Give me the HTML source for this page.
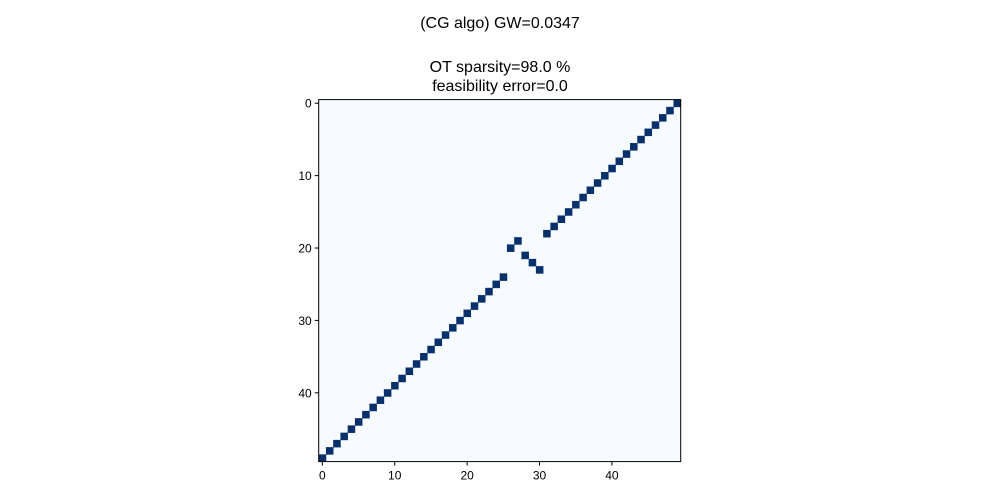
<!DOCTYPE html>
<html><head><meta charset="utf-8"><style>
body{margin:0;background:#fff;}
svg{display:block;font-family:"Liberation Sans","DejaVu Sans",sans-serif;}
</style></head><body>
<svg id="chart" width="1000" height="500">
<text x="500" y="28" font-size="16" text-anchor="middle">(CG algo) GW=0.0347</text>
<text x="500" y="72" font-size="16" text-anchor="middle">OT sparsity=98.0 %</text>
<text x="500" y="91" font-size="16" text-anchor="middle">feasibility error=0.0</text>
<g id="plot"></g>
</svg>
<script>
const nSize = 50;
const rowIdx = [];
const colIdx = [];
for (let i = 0; i < 50; i++) rowIdx.push(i);
const colValues = [49,48,47,46,45,44,43,42,41,40,39,38,37,36,35,34,33,32,31,27,26,28,29,30,25,24,23,22,21,20,19,18,17,16,15,14,13,12,11,10,9,8,7,6,5,4,3,2,1,0];
const xTicks = [0,10,20,30,40];
const yTicks = [0,10,20,30,40];
const L = 318.7, T = 99.6, S = 362;
const cw = S / nSize;
const xs = v => L + v * cw;
const ys = v => T + v * cw;
const NS = "http://www.w3.org/2000/svg";
const g = document.getElementById('plot');
function mk(tag, attrs){const e=document.createElementNS(NS,tag);for(const k in attrs)e.setAttribute(k,attrs[k]);g.appendChild(e);return e;}
const bg = mk('rect',{x:L,y:T,width:S,height:S,fill:'#f7fbff'});


rowIdx.forEach((r,i)=>{
  const c = colValues[i];
  const e = mk('rect',{x:xs(c),y:ys(r),width:cw+0.3,height:cw+0.3,fill:'#08306b'});
  
  
});
const fr = mk('rect',{x:L,y:T,width:S,height:S,fill:'none',stroke:'#000','stroke-width':1});


xTicks.forEach(t=>{
  const x = xs(t + 0.5);
  const l = mk('line',{x1:x,x2:x,y1:T+S,y2:T+S+4,stroke:'#000'});
  
  
  const tx = mk('text',{x:x,y:T+S+18,'font-size':12,'text-anchor':'middle'});
  tx.textContent = t;
  
  
});
yTicks.forEach(t=>{
  const y = ys(t + 0.5);
  const l = mk('line',{x1:L-4,x2:L,y1:y,y2:y,stroke:'#000'});
  
  
  const tx = mk('text',{x:L-7,y:y+4.5,'font-size':12,'text-anchor':'end'});
  tx.textContent = t;
  
  
});
</script>
</body></html>
